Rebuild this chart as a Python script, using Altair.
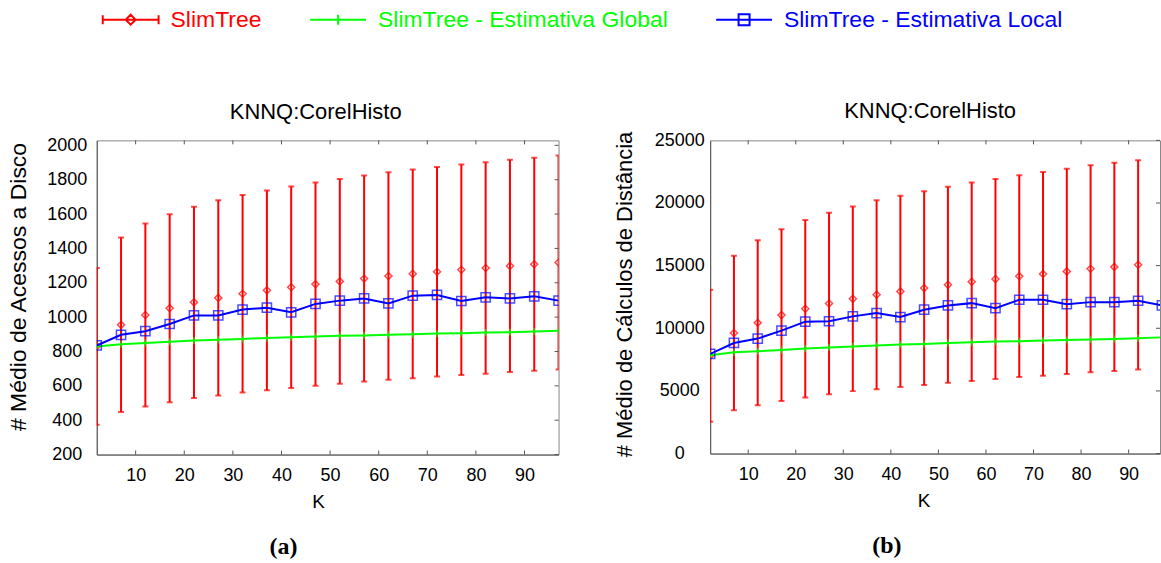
import altair as alt
import pandas as pd

# ---------------------------------------------------------------- data
K = [2, 7, 12, 17, 22, 27, 32, 37, 42, 47, 52, 57, 62, 67, 72, 77, 82, 87, 92, 97]
K_TICKS = [10, 20, 30, 40, 50, 60, 70, 80, 90]
SERIES = ["SlimTree", "SlimTree - Estimativa Global", "SlimTree - Estimativa Local"]

# (a) average number of disk accesses
A_SLIM_MEAN = [830, 955, 1012, 1052, 1086, 1112, 1136, 1156, 1174, 1192,
               1208, 1225, 1239, 1252, 1264, 1276, 1286, 1298, 1308, 1318]
A_SLIM_ERR = [456, 508, 533, 547, 557, 568, 575, 581, 586, 591,
              596, 600, 604, 608, 610, 613, 615, 618, 620, 623]
A_GLOBAL = [829, 842, 850, 856, 864, 868, 873, 879, 883, 887,
            891, 893, 897, 900, 904, 906, 910, 912, 916, 920]
A_LOCAL = [835, 897, 918, 960, 1010, 1010, 1044, 1055, 1028, 1077,
           1096, 1109, 1080, 1125, 1129, 1094, 1115, 1109, 1121, 1096]
A_TICKS = [200, 400, 600, 800, 1000, 1200, 1400, 1600, 1800, 2000]

# (b) average number of distance calculations
B_SLIM_MEAN = [7810, 9620, 10440, 11050, 11560, 11980, 12350, 12680, 12940, 13210,
               13470, 13710, 13930, 14160, 14340, 14540, 14750, 14900, 15070]
B_SLIM_ERR = [5264, 6163, 6588, 6855, 7078, 7248, 7367, 7540, 7634, 7729,
              7820, 7924, 7979, 8059, 8138, 8191, 8257, 8310, 8352]
B_GLOBAL = [7850, 8087, 8166, 8270, 8381, 8461, 8540, 8620, 8699, 8747,
            8827, 8882, 8938, 8962, 9017, 9065, 9097, 9144, 9200, 9280]
B_LOCAL = [7952, 8827, 9176, 9812, 10528, 10560, 10950, 11212, 10894, 11482,
           11824, 12007, 11610, 12277, 12277, 11928, 12087, 12087, 12198, 11830]
B_TICKS = [0, 5000, 10000, 15000, 20000, 25000]

# ---------------------------------------------------------------- style
FONT = "Liberation Sans"
RED, GREEN, BLUE = "#ff0000", "#00ff00", "#0000ff"
AXIS = "#555555"

# Legend glyphs: a 56 px line with the series marker in its middle.
# Vega scales custom paths by sqrt(size)/2 = 12 px per unit, centred 12 px
# from the left of the symbol column, so the line runs from -1 to 3.667.
LEG_SIZE = 576
LEG_RED = ("M-1,0H3.667M-1,-0.375V0.375M3.667,-0.375V0.375"
           "M0.917,0L1.333,-0.417L1.75,0L1.333,0.417Z")
LEG_GREEN = "M-1,0H3.667M1.333,-0.417V0.417"
LEG_BLUE = "M-1,0H3.667M0.875,-0.458H1.792V0.458H0.875Z"

LABEL_COLOR = ("datum.label == 'SlimTree' ? '#ff0000' : "
               "(datum.label == 'SlimTree - Estimativa Global' ? '#00ff00' : '#0000ff')")


def panel(slim_mean, slim_err, glob, loc, y_dom, y_ticks, y_title, w, h,
          x_max, title_offset, title_dx, k_x, y_label_pad, y_title_pad,
          y_title_size, y_title_y):
    n = len(slim_mean)
    slim = pd.DataFrame({"K": K[:n], "mean": slim_mean, "err": slim_err})
    slim["lo"] = slim["mean"] - slim["err"]
    slim["hi"] = slim["mean"] + slim["err"]
    est = pd.DataFrame({
        "K": K + K,
        "value": glob + loc,
        "series": [SERIES[1]] * len(glob) + [SERIES[2]] * len(loc),
    })
    xt = pd.DataFrame({"K": K_TICKS})
    yt = pd.DataFrame({"v": y_ticks})

    xs = alt.Scale(domain=[2, x_max], nice=False, zero=False)
    ys = alt.Scale(domain=y_dom, nice=False, zero=False)
    x_axis = alt.Axis(values=K_TICKS, ticks=False, grid=False, domainColor=AXIS,
                      labelFont=FONT, labelFontSize=18, labelColor="black",
                      labelPadding=12, labelFlush=False, format="d",
                      title="K", titleFont=FONT, titleFontSize=19,
                      titleFontWeight="normal", titleColor="black",
                      titlePadding=8, titleX=k_x)
    y_axis = alt.Axis(values=y_ticks, ticks=False, grid=False, domainColor=AXIS,
                      labelFont=FONT, labelFontSize=18, labelColor="black",
                      labelAlign="center", labelPadding=y_label_pad,
                      labelFlush=False, format="d",
                      title=y_title, titleFont=FONT, titleFontSize=y_title_size,
                      titleFontWeight="normal", titleColor="black",
                      titlePadding=y_title_pad, titleY=y_title_y)

    X = alt.X("K:Q", scale=xs, axis=x_axis)

    def Y(field):
        return alt.Y(f"{field}:Q", scale=ys, axis=y_axis)

    bars = alt.Chart(slim).mark_rule(color=RED, strokeWidth=2, clip=True).encode(
        x=X, y=Y("lo"), y2="hi:Q")
    cap_lo = alt.Chart(slim).mark_tick(orient="horizontal", color=RED, size=6,
                                       thickness=2, clip=True).encode(x=X, y=Y("lo"))
    cap_hi = alt.Chart(slim).mark_tick(orient="horizontal", color=RED, size=6,
                                       thickness=2, clip=True).encode(x=X, y=Y("hi"))
    diamonds = alt.Chart(slim).mark_point(shape="diamond", filled=False, color=RED,
                                          size=50, strokeWidth=1.5, clip=True).encode(
        x=X, y=Y("mean"))

    g = alt.Chart(est).transform_filter(alt.datum.series == SERIES[1])
    l = alt.Chart(est).transform_filter(alt.datum.series == SERIES[2])
    g_line = g.mark_line(color=GREEN, strokeWidth=2, clip=True).encode(x=X, y=Y("value"))
    g_mark = g.mark_tick(orient="vertical", color=GREEN, size=7, thickness=1.5,
                         clip=True).encode(x=X, y=Y("value"))
    l_line = l.mark_line(color=BLUE, strokeWidth=2, clip=True).encode(x=X, y=Y("value"))
    l_mark = l.mark_point(shape="square", filled=False, color=BLUE, size=85,
                          strokeWidth=1.5, clip=True).encode(x=X, y=Y("value"))

    # inner ticks on bottom, top and right edges of the frame
    t_bot = alt.Chart(xt).mark_rule(color=AXIS, strokeWidth=1).encode(
        x=X, y=alt.value(h), y2=alt.value(h - 4))
    t_top = alt.Chart(xt).mark_rule(color=AXIS, strokeWidth=1).encode(
        x=X, y=alt.value(0), y2=alt.value(4))
    t_right = alt.Chart(yt).mark_rule(color=AXIS, strokeWidth=1).encode(
        y=Y("v"), x=alt.value(w - 4), x2=alt.value(w))

    return alt.layer(bars, cap_lo, cap_hi, diamonds, g_line, g_mark, l_line, l_mark,
                     t_bot, t_top, t_right).properties(
        width=w, height=h,
        title=alt.TitleParams("KNNQ:CorelHisto", font=FONT, fontSize=22,
                              fontWeight="normal", color="black",
                              offset=title_offset, dx=title_dx,
                              baseline="alphabetic", anchor="middle"),
    )


def caption(text):
    return alt.TitleParams(text, orient="bottom", font="Liberation Serif",
                           fontSize=24, fontWeight="bold", color="black",
                           baseline="top", offset=23, anchor="middle")


# shared legend, drawn on its own empty strip above the two panels
leg = alt.Legend(title=None, orient="none", legendX=5, legendY=0,
                 direction="horizontal", symbolSize=LEG_SIZE,
                 symbolStrokeWidth=2, symbolOpacity=1,
                 labelFont=FONT, labelFontSize=23,
                 labelColor=alt.ExprRef(LABEL_COLOR),
                 labelOffset=43, columnPadding=44, labelLimit=0,
                 padding=0, rowPadding=0)
key = alt.Chart(pd.DataFrame({"series": SERIES})).transform_filter("false").mark_point(
    filled=False).encode(
    color=alt.Color("series:N", legend=leg,
                    scale=alt.Scale(domain=SERIES, range=[RED, GREEN, BLUE])),
    shape=alt.Shape("series:N", legend=leg,
                    scale=alt.Scale(domain=SERIES, range=[LEG_RED, LEG_GREEN, LEG_BLUE])),
).properties(width=1, height=1, view=alt.ViewBackground(stroke="transparent"))

panel_a = panel(A_SLIM_MEAN, A_SLIM_ERR, A_GLOBAL, A_LOCAL, [200, 2029], A_TICKS,
                "# Médio de Acessos a Disco", 463, 315, 97, -5, -12, 222, 30, 16,
                23, 146.5)
panel_b = panel(B_SLIM_MEAN, B_SLIM_ERR, B_GLOBAL, B_LOCAL, [0, 25000], B_TICKS,
                "# Médio de Cálculos de Distância", 451, 314, 96.6, -9, -5, 214, 31, 18,
                22, 154)

panels = alt.hconcat(
    alt.vconcat(panel_a, title=caption("(a)")),
    alt.vconcat(panel_b, title=caption("(b)")),
    spacing=53,
)

chart = alt.vconcat(key, panels, spacing=67).resolve_legend(
    color="independent", shape="independent"
).configure_view(stroke="#888888", strokeWidth=1).properties(
    padding={"left": 7, "top": 5, "right": 0, "bottom": 0},
    background="white",
)

chart.save("out.html", embed_options={"renderer": "svg", "actions": False})
